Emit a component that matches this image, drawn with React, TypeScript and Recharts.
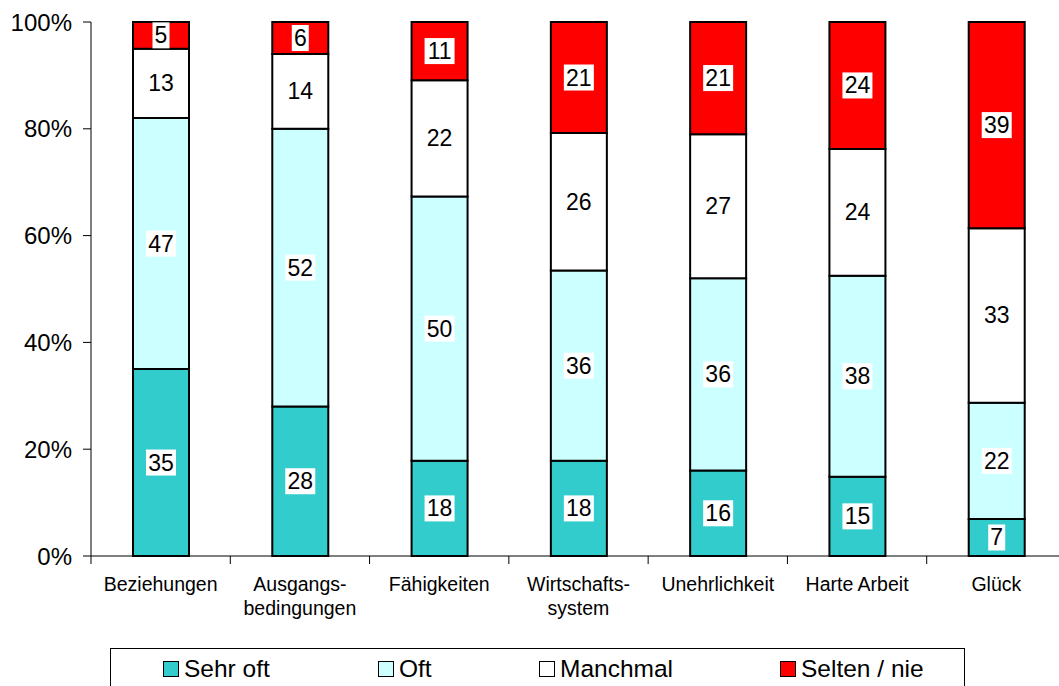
import { BarChart, Bar, XAxis, YAxis, LabelList } from "recharts";

const categories = [
  "Beziehungen",
  "Ausgangs-\nbedingungen",
  "Fähigkeiten",
  "Wirtschafts-\nsystem",
  "Unehrlichkeit",
  "Harte Arbeit",
  "Glück",
];
const sehrOft = [35, 28, 18, 18, 16, 15, 7];
const oft = [47, 52, 50, 36, 36, 38, 22];
const manchmal = [13, 14, 22, 26, 27, 24, 33];
const selten = [5, 6, 11, 21, 21, 24, 39];
const yTicks = [0, 0.2, 0.4, 0.6, 0.8, 1];

const series = [
  { key: "sehrOft", name: "Sehr oft", color: "#33CCCC" },
  { key: "oft", name: "Oft", color: "#CCFFFF" },
  { key: "manchmal", name: "Manchmal", color: "#FFFFFF" },
  { key: "selten", name: "Selten / nie", color: "#FF0000" },
];

const data = categories.map((c, i) => ({
  name: c,
  sehrOft: sehrOft[i],
  oft: oft[i],
  manchmal: manchmal[i],
  selten: selten[i],
}));

const FONT = "'Liberation Sans', Arial, sans-serif";
const CHART_W = 1072;
const LEFT = 91;
const RIGHT = 6;
const BAND = (CHART_W - LEFT - RIGHT) / categories.length;

function BoxLabel(props: any) {
  const { x, y, width, height, value } = props;
  const s = String(value);
  const w = s.length * 13 + 4;
  const h = Math.min(26, height);
  const cx = x + width / 2;
  const cy = y + height / 2;
  return (
    <g>
      <rect x={cx - w / 2} y={cy - h / 2} width={w} height={h} fill="#fff" />
      <text
        x={cx}
        y={cy + 8}
        textAnchor="middle"
        fontSize={23}
        fontFamily={FONT}
        fill="#000"
      >
        {s}
      </text>
    </g>
  );
}

function CatTick(props: any) {
  const { x, y, payload } = props;
  const lines = String(payload.value).split("\n");
  const bx = x - BAND / 2;
  return (
    <g>
      <line x1={bx} y1={y} x2={bx} y2={y + 8} stroke="#000" strokeWidth={1} />
      {lines.map((l, i) => (
        <text
          key={i}
          x={x}
          y={y + 35 + i * 24}
          textAnchor="middle"
          fontSize={19.5}
          fontFamily={FONT}
          fill="#000"
        >
          {l}
        </text>
      ))}
    </g>
  );
}

const legendPos = [163, 378, 539, 780];

export default function App() {
  return (
    <div
      style={{
        position: "absolute",
        left: 0,
        top: 0,
        width: 1059,
        height: 686,
        overflow: "hidden",
        background: "#fff",
        fontFamily: FONT,
      }}
    >
      <BarChart
        width={CHART_W}
        height={686}
        data={data}
        stackOffset="expand"
        barSize={56}
        margin={{ top: 22, right: RIGHT, bottom: 70, left: 0 }}
      >
        <XAxis
          dataKey="name"
          interval={0}
          tickLine={false}
          tickSize={0}
          tickMargin={0}
          height={60}
          axisLine={{ stroke: "#000", strokeWidth: 1 }}
          tick={<CatTick />}
        />
        <YAxis
          width={LEFT}
          domain={[0, 1]}
          ticks={yTicks}
          tickSize={8}
          tickMargin={11}
          tickFormatter={(v: number) => `${Math.round(v * 100)}%`}
          axisLine={{ stroke: "#000", strokeWidth: 1 }}
          tickLine={{ stroke: "#000", strokeWidth: 1 }}
          tick={{ fontSize: 24, fill: "#000", fontFamily: FONT }}
        />
        {series.map((s) => (
          <Bar
            key={s.key}
            dataKey={s.key}
            name={s.name}
            stackId="a"
            fill={s.color}
            stroke="#000"
            strokeWidth={2}
            isAnimationActive={false}
          >
            <LabelList dataKey={s.key} content={<BoxLabel />} />
          </Bar>
        ))}
      </BarChart>
      <div
        style={{
          position: "absolute",
          left: 110,
          top: 648,
          width: 855,
          height: 50,
          border: "1px solid #000",
          boxSizing: "border-box",
        }}
      />
      {series.map((s, i) => (
        <div
          key={s.key}
          style={{
            position: "absolute",
            left: legendPos[i],
            top: 655,
            display: "flex",
            alignItems: "center",
            fontSize: 24.5,
            color: "#000",
            lineHeight: "28px",
          }}
        >
          <span
            style={{
              display: "inline-block",
              width: 14,
              height: 14,
              background: s.color,
              border: "1.5px solid #000",
              marginRight: 5,
            }}
          />
          {s.name}
        </div>
      ))}
    </div>
  );
}
